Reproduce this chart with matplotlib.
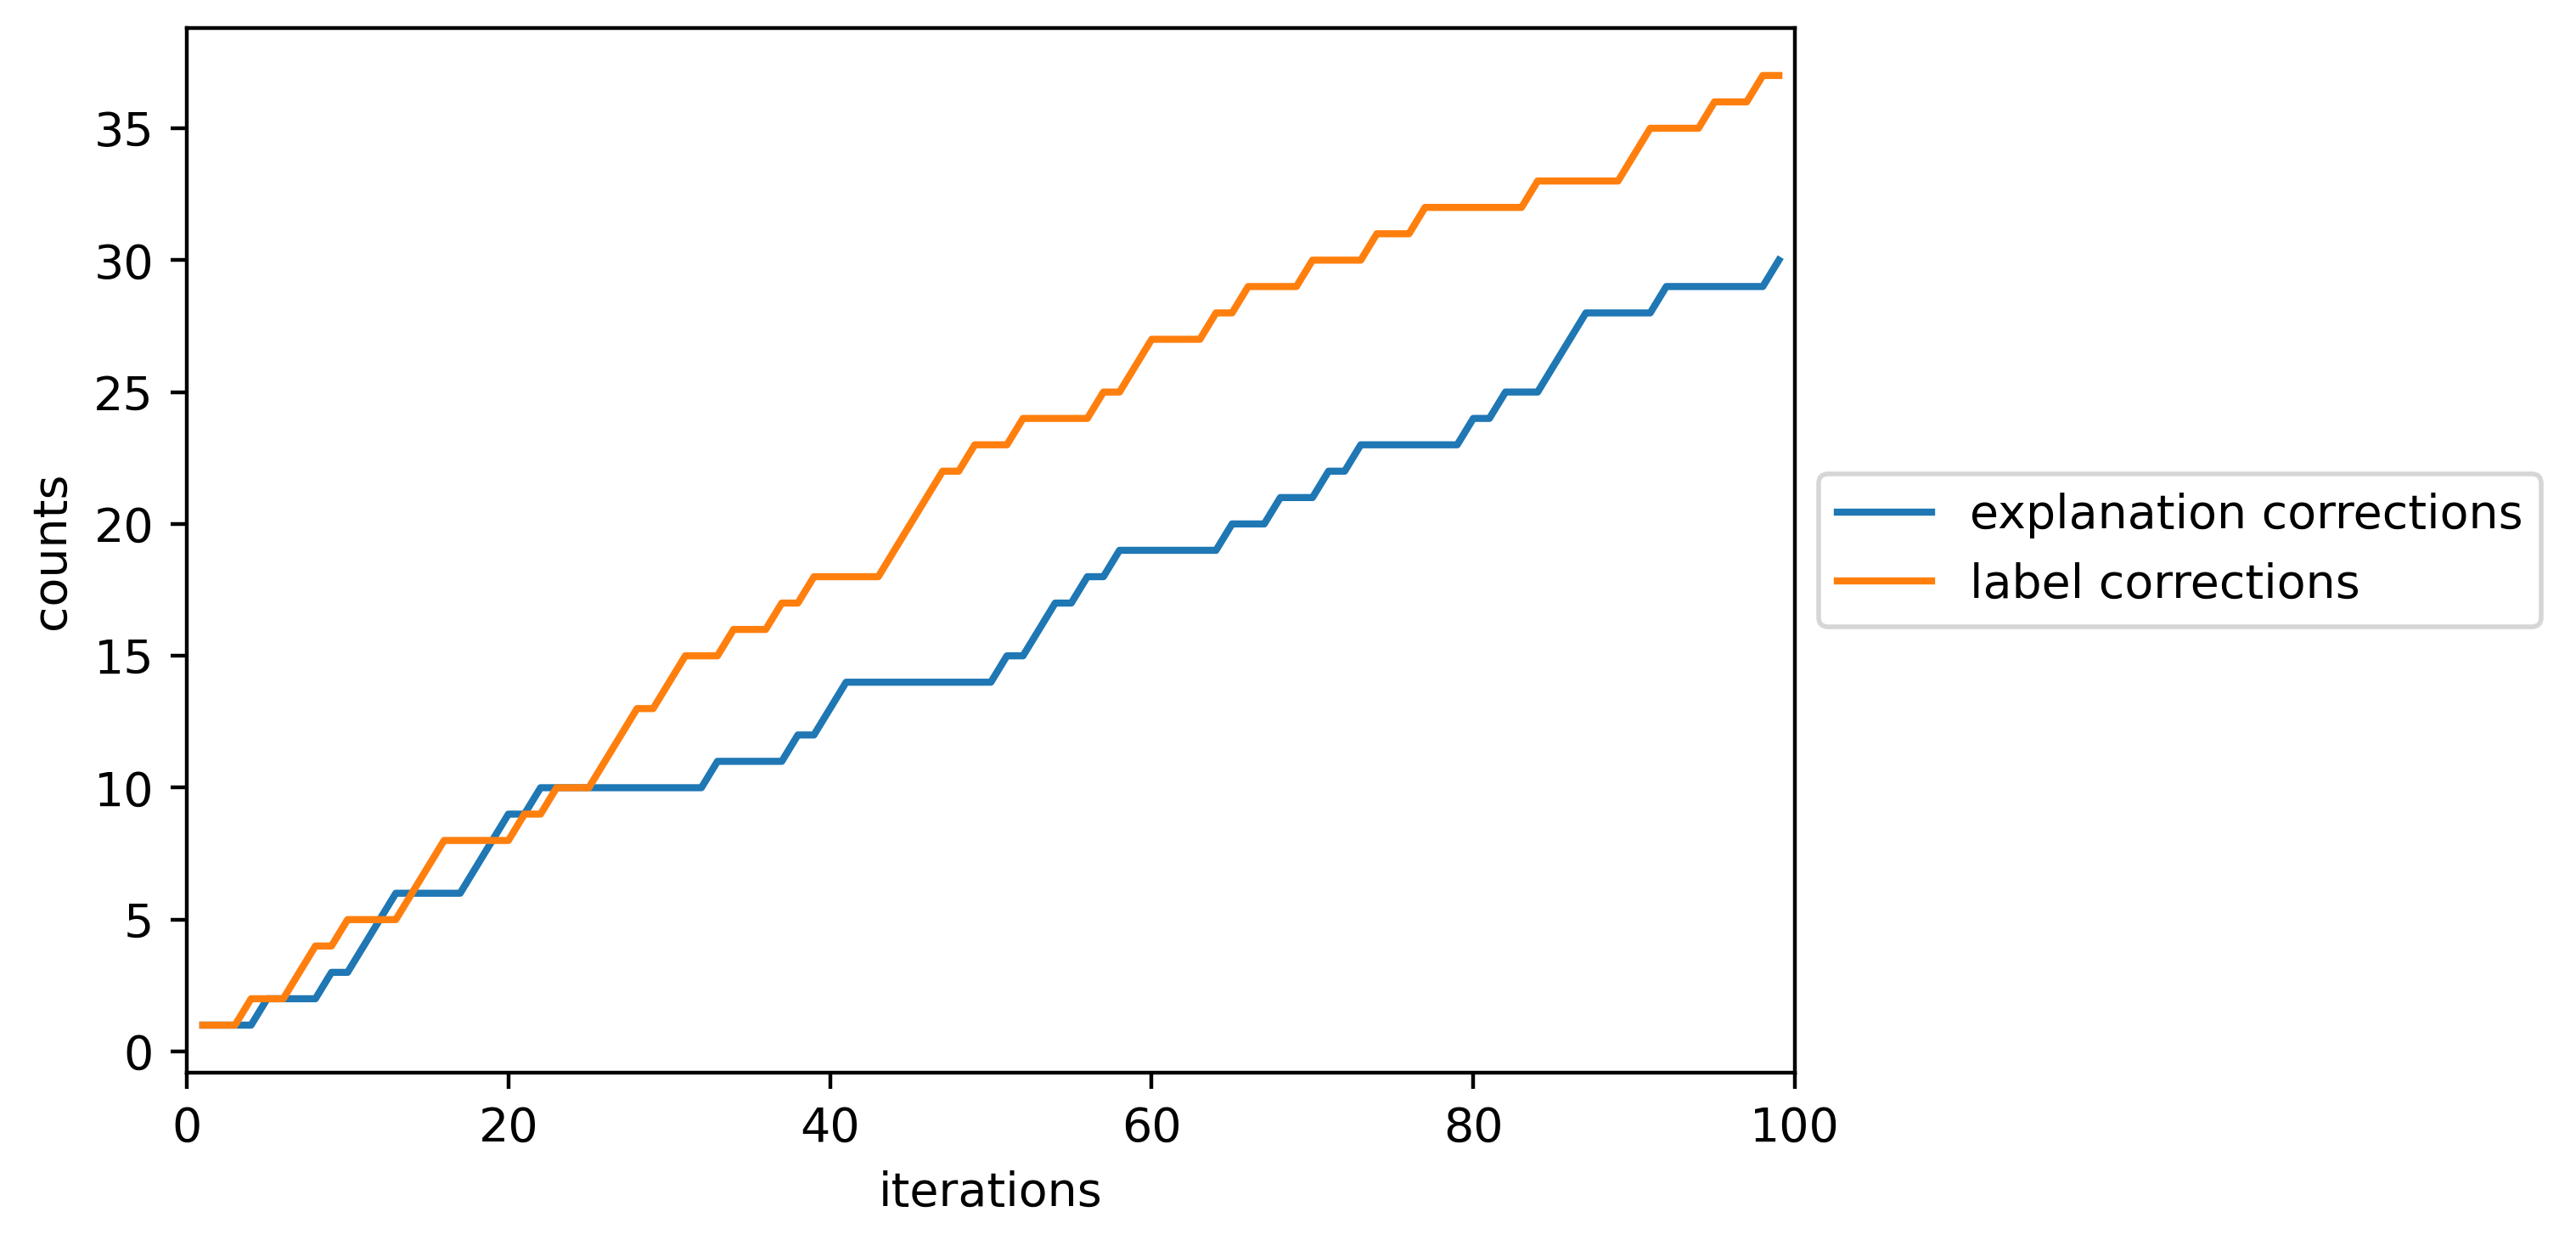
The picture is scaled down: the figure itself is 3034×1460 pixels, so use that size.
import matplotlib
matplotlib.use('Agg')
import matplotlib.pyplot as plt

# iteration index of every logged step
iterations = list(range(1, 100))

# cumulative count of explanation corrections
explanation_corrections = [
    1, 1, 1, 1, 2, 2, 2, 2, 3, 3,          # 1-10
    4, 5, 6, 6, 6, 6, 6, 7, 8, 9,          # 11-20
    9, 10, 10, 10, 10, 10, 10, 10, 10, 10,  # 21-30
    10, 10, 11, 11, 11, 11, 11, 12, 12, 13,  # 31-40
    14, 14, 14, 14, 14, 14, 14, 14, 14, 14,  # 41-50
    15, 15, 16, 17, 17, 18, 18, 19, 19, 19,  # 51-60
    19, 19, 19, 19, 20, 20, 20, 21, 21, 21,  # 61-70
    22, 22, 23, 23, 23, 23, 23, 23, 23, 24,  # 71-80
    24, 25, 25, 25, 26, 27, 28, 28, 28, 28,  # 81-90
    28, 29, 29, 29, 29, 29, 29, 29, 30,      # 91-99
]

# cumulative count of label corrections
label_corrections = [
    1, 1, 1, 2, 2, 2, 3, 4, 4, 5,          # 1-10
    5, 5, 5, 6, 7, 8, 8, 8, 8, 8,          # 11-20
    9, 9, 10, 10, 10, 11, 12, 13, 13, 14,   # 21-30
    15, 15, 15, 16, 16, 16, 17, 17, 18, 18,  # 31-40
    18, 18, 18, 19, 20, 21, 22, 22, 23, 23,  # 41-50
    23, 24, 24, 24, 24, 24, 25, 25, 26, 27,  # 51-60
    27, 27, 27, 28, 28, 29, 29, 29, 29, 30,  # 61-70
    30, 30, 30, 31, 31, 31, 32, 32, 32, 32,  # 71-80
    32, 32, 32, 33, 33, 33, 33, 33, 33, 34,  # 81-90
    35, 35, 35, 35, 36, 36, 36, 37, 37,      # 91-99
]

# small figure rendered at a high dpi, like an upscaled notebook plot
fig = plt.figure(figsize=(3034 / 400, 1460 / 400), dpi=400)
ax = fig.add_axes([0.0725, 0.135, 0.6243, 0.8424])

# plotting both counters
ax.plot(iterations, explanation_corrections, label='explanation corrections')
ax.plot(iterations, label_corrections, label='label corrections')

# axis labels and range
ax.set_xlabel('iterations')
ax.set_ylabel('counts')
ax.set_xlim(0, 100)

# legend outside the axes on the right
ax.legend(loc='center left', bbox_to_anchor=(1, 0.5))

fig.savefig('out.png', dpi=400)
